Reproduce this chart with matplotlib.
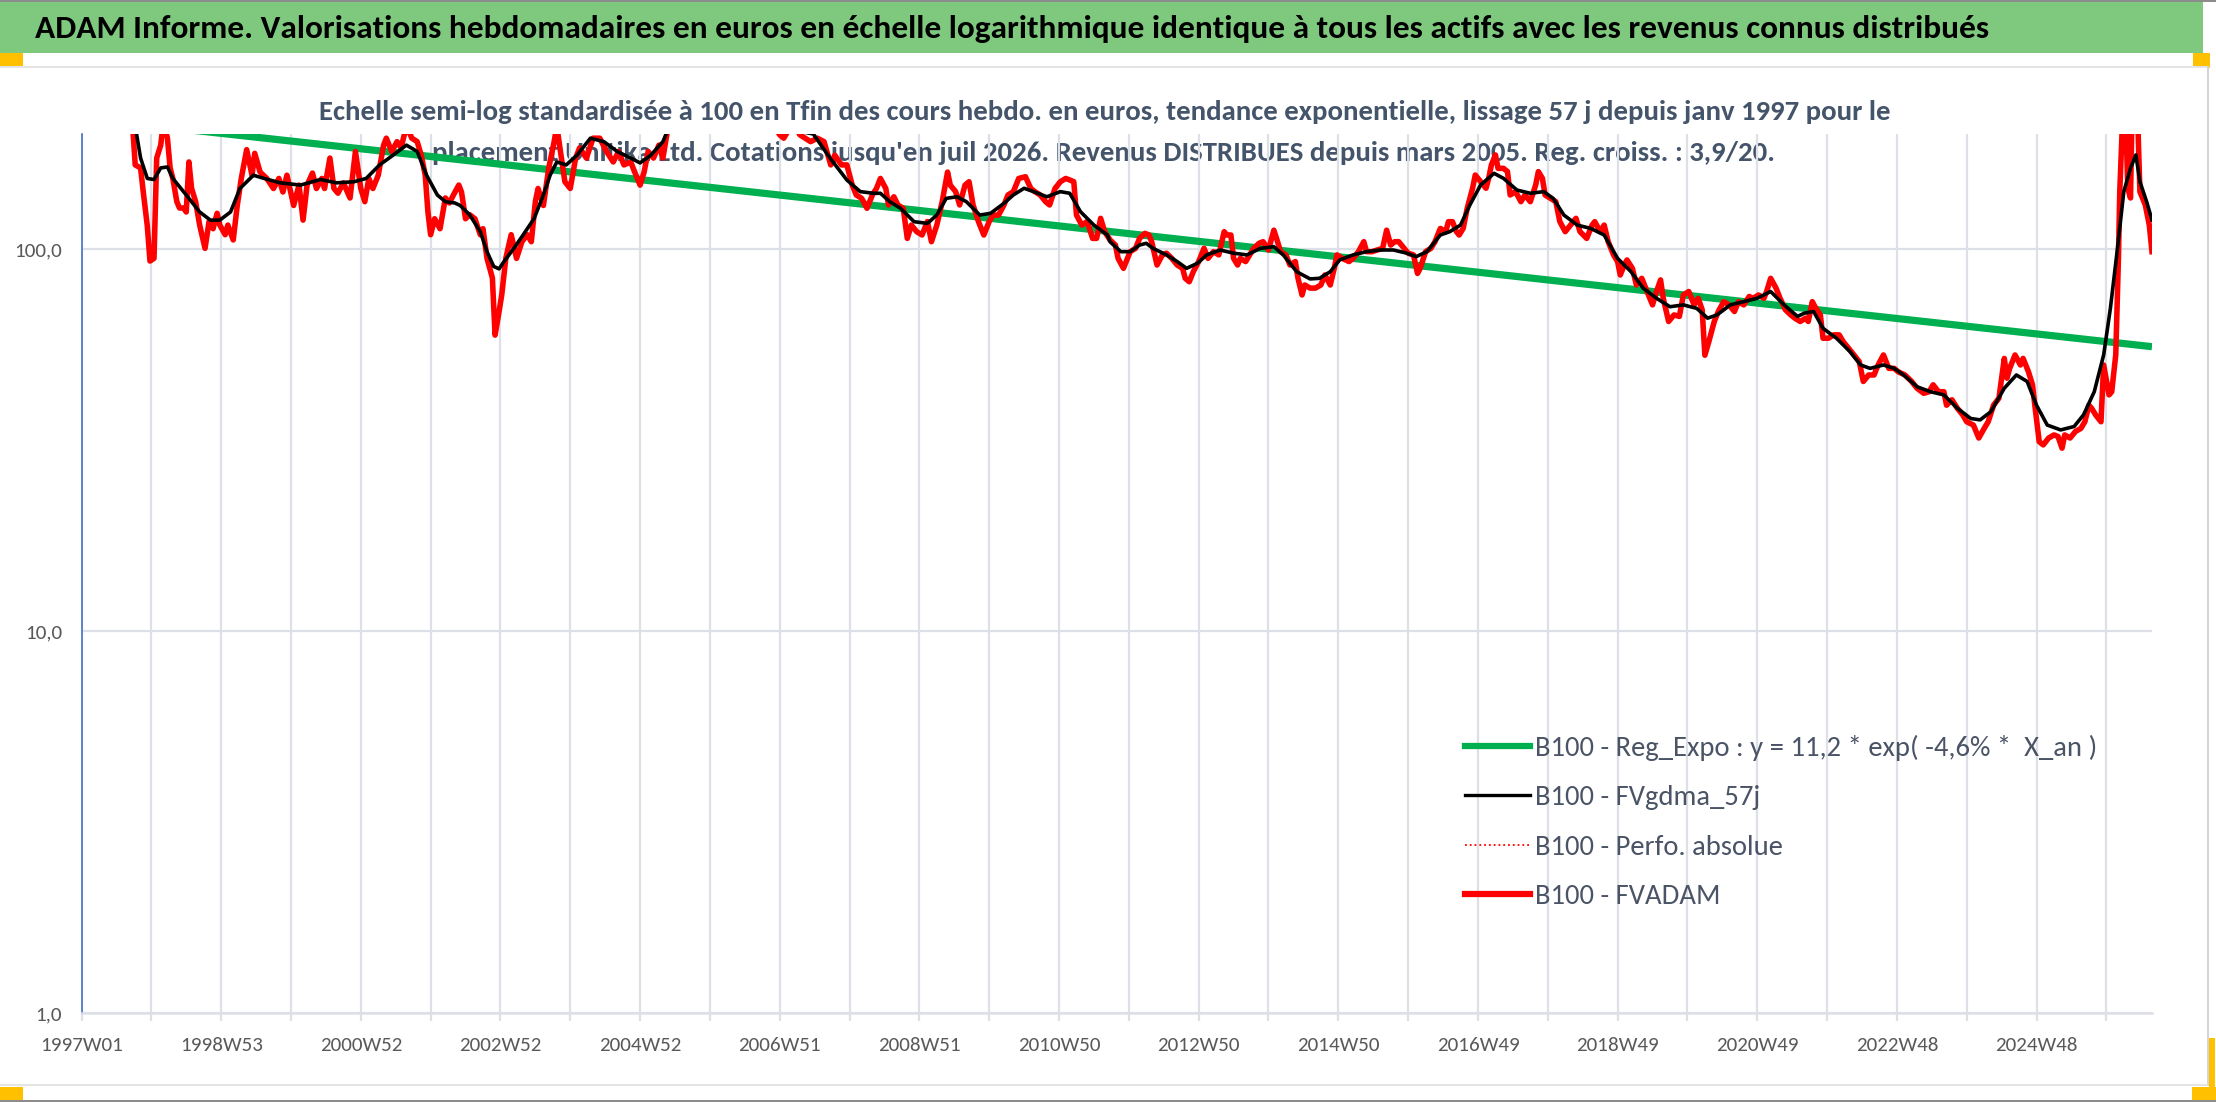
import matplotlib
matplotlib.use("Agg")
import matplotlib.pyplot as plt
from matplotlib import font_manager
from matplotlib.lines import Line2D
from matplotlib.patches import Rectangle
from matplotlib.ticker import FixedLocator, NullLocator, FixedFormatter

# ---------------- data ----------------
title = ("ADAM Informe. Valorisations hebdomadaires en euros en échelle logarithmique "
         "identique à tous les actifs avec les revenus connus distribués")
subtitle1 = ("Echelle semi-log standardisée à 100 en Tfin des cours hebdo. en euros, tendance "
             "exponentielle, lissage 57 j depuis janv 1997 pour le")
subtitle2 = ("placement Unitika Ltd. Cotations jusqu'en juil 2026. Revenus DISTRIBUES depuis "
             "mars 2005. Reg. croiss. : 3,9/20.")

x_tick_labels = ["1997W01", "1998W53", "2000W52", "2002W52", "2004W52", "2006W51",
                 "2008W51", "2010W50", "2012W50", "2014W50", "2016W49", "2018W49",
                 "2020W49", "2022W48", "2024W48"]
y_tick_values = [1, 10, 100]
y_tick_labels = ["1,0", "10,0", "100,0"]
n_weeks = 1542          # last weekly point index (juil 2026)
grid_step = 52          # weekly points between vertical gridlines
label_step = 104        # weekly points between labels

legend_labels = ["B100 - Reg_Expo : y = 11,2 * exp( -4,6% *  X_an )",
                 "B100 - FVgdma_57j",
                 "B100 - Perfo. absolue",
                 "B100 - FVADAM"]

# exponential trend (straight on the log axis) : start / end
trend_weeks = [38, 1542]
trend_values = [213, 55.5]

# FVADAM (red) - weekly index, value
red_weeks = [37, 40, 44, 46, 49, 51, 54, 55, 56, 59, 61, 64, 66, 68, 71, 73, 76, 78, 80, 82,
             85, 88, 92, 95, 98, 101, 103, 107, 109, 113, 116, 119, 123, 127, 129, 133, 138, 143,
             147, 150, 153, 158, 162, 165, 168, 172, 175, 179, 181, 185, 188, 191, 195, 200, 204,
             208, 211, 214, 217, 221, 225, 227, 231, 235, 238, 242, 246, 250, 253, 256, 258, 260,
             263, 267, 271, 274, 277, 281, 283, 286, 289, 293, 297, 299, 302, 306, 308, 311, 313,
             316, 320, 324, 328, 332, 335, 338, 340, 344, 348, 352, 354, 356, 360, 364, 368, 371,
             376, 381, 386, 391, 396, 400, 404, 409, 412, 416, 419, 422, 426, 430, 433, 436, 440,
             444, 455, 468, 480, 492, 505, 514, 520, 523, 530, 535, 543, 548, 553, 558, 561, 566,
             570, 574, 577, 581, 585, 589, 592, 595, 599, 601, 605, 608, 612, 615, 618, 622, 626,
             630, 633, 637, 641, 645, 647, 651, 654, 658, 661, 664, 668, 672, 676, 679, 683, 687,
             690, 694, 698, 703, 707, 710, 714, 718, 721, 725, 729, 733, 736, 739, 741, 745, 749,
             753, 756, 759, 762, 766, 770, 772, 776, 779, 781, 785, 788, 792, 795, 797, 801, 805,
             808, 812, 816, 820, 822, 825, 828, 832, 836, 839, 843, 847, 851, 853, 856, 858, 861,
             863, 867, 870, 873, 877, 880, 884, 888, 890, 893, 897, 900, 904, 906, 909, 911, 915,
             919, 923, 926, 930, 933, 935, 939, 944, 947, 951, 955, 957, 961, 965, 969, 972, 975,
             978, 981, 985, 988, 992, 995, 997, 1001, 1005, 1008, 1012, 1016, 1018, 1021, 1024,
             1026, 1029, 1032, 1036, 1038, 1042, 1046, 1048, 1050, 1053, 1055, 1059, 1062, 1064,
             1068, 1072, 1075, 1079, 1083, 1085, 1088, 1090, 1094, 1098, 1101, 1105, 1109, 1113,
             1116, 1121, 1125, 1127, 1131, 1134, 1137, 1141, 1144, 1146, 1149, 1151, 1155, 1158,
             1162, 1166, 1170, 1173, 1176, 1178, 1182, 1186, 1190, 1193, 1197, 1201, 1204, 1207,
             1209, 1212, 1216, 1219, 1223, 1227, 1231, 1234, 1238, 1242, 1245, 1249, 1253, 1255,
             1258, 1262, 1265, 1269, 1273, 1276, 1280, 1284, 1286, 1289, 1291, 1295, 1297, 1301,
             1305, 1309, 1312, 1316, 1320, 1324, 1327, 1331, 1335, 1338, 1342, 1346, 1350, 1353,
             1358, 1363, 1367, 1372, 1376, 1379, 1383, 1387, 1389, 1393, 1397, 1401, 1404, 1409,
             1413, 1417, 1420, 1424, 1428, 1432, 1434, 1436, 1440, 1444, 1446, 1450, 1453, 1455,
             1458, 1461, 1465, 1469, 1472, 1475, 1477, 1481, 1485, 1489, 1492, 1495, 1497, 1500,
             1504, 1506, 1510, 1512, 1515, 1517, 1518, 1520, 1522, 1524, 1526, 1527, 1529, 1531,
             1533, 1537, 1540, 1542]
red_values = [240, 166, 163, 141, 115, 93, 94.5, 128, 173, 187, 215, 195, 163, 153, 133, 128, 128,
              125, 169, 144, 133, 115.5, 100.4, 118, 113, 124, 115.5, 109, 115.5, 105.6, 130, 153,
              182, 156, 178, 159, 153, 144, 153, 141, 156, 130, 147, 119, 147, 158, 144, 153, 144,
              173, 144, 140, 149, 136, 180, 144, 133, 153, 144, 156, 187, 195, 180, 191, 184, 210,
              195, 191, 176, 156, 125, 109, 120, 113, 136, 132, 138.5, 147, 141, 120, 123, 120,
              109, 113, 94.5, 84, 59.5, 68.6, 76, 94.5, 109, 94.5, 104.5, 109, 104.5, 133, 144,
              130, 163, 191, 210, 187, 150, 144, 173, 184, 173, 195, 195, 180, 169, 180, 166, 169,
              159, 147, 159, 180, 173, 187, 173, 200, 225, 240, 260, 245, 265, 250, 240, 215, 199,
              195, 215, 199, 191, 195, 191, 166, 176, 166, 166, 147, 138.5, 135.7, 127.8, 138.5,
              144, 153, 144, 130.4, 137, 130.4, 127.8, 106.6, 115.5, 111, 108.8, 118, 104.5, 115.5,
              133, 159, 147, 141.3, 130.4, 147, 150, 130.4, 118, 108.8, 118, 122.7, 122.7, 130.4,
              138.5, 141.3, 153, 154.6, 144, 141.3, 138.5, 133, 130.4, 144, 150, 153, 151.6, 150,
              122.7, 115.5, 118, 106.6, 106.6, 120.3, 111, 105.6, 102.4, 94.5, 89, 94.5, 98.4,
              100.4, 106.6, 109.9, 108.8, 104.5, 90.8, 96.5, 97.5, 94.5, 90.8, 89, 83.8, 82.1,
              87.2, 92.7, 100.4, 94.5, 98.4, 96.5, 111, 108.8, 108.8, 94.5, 90.8, 94.5, 92.7,
              96.5, 100.4, 103.5, 104.5, 99.4, 112, 106.6, 98.4, 96.5, 90.8, 92.7, 83.8, 75.8,
              80.5, 79, 79, 80.5, 85.5, 80.5, 89, 96.5, 94.5, 92.7, 94.5, 98.4, 104.5, 98.4, 98.4,
              99.4, 100.4, 112, 102.4, 104.5, 104.5, 100.4, 97.5, 96.5, 86.3, 89, 98.4, 100.4,
              104.5, 113.2, 111, 117.9, 117.9, 111, 108.8, 113.2, 127.8, 144.2, 156.2, 150.1,
              144.2, 153.1, 165.9, 176.3, 162.6, 162.6, 159.4, 138.5, 141.3, 133, 138.5, 133,
              147.1, 159.4, 153.1, 138.5, 135.7, 133, 117.9, 111, 115.5, 120.3, 111, 106.6, 115.5,
              117.9, 111, 115.5, 104.5, 96.5, 92.7, 85.5, 90.8, 93.6, 89, 80.5, 83.8, 77.4, 71.4,
              77.4, 83, 74.3, 64.6, 67.2, 66.6, 75.8, 77.4, 71.4, 74.3, 69.3, 52.7, 57.3, 64.6,
              68.6, 72.8, 71.4, 68.6, 72.8, 71.4, 75.1, 74.3, 75.8, 74.3, 77.4, 83.8, 79, 74.3,
              69.3, 67.2, 65.9, 64.6, 65.9, 64.6, 72.8, 70.6, 67.2, 58.4, 58.4, 59.6, 59.6, 57.2,
              55, 52.8, 50.7, 45, 46.8, 46.8, 49.7, 52.8, 48.7, 48.7, 47.7, 46.8, 45, 43.2, 41.9,
              42.3, 44.1, 42.3, 42.3, 39, 40.3, 38.3, 36.8, 35.3, 34.6, 32, 33.9, 35.3, 39, 40.7,
              51.7, 45.9, 48.7, 52.8, 49.7, 51.7, 47.7, 44.1, 38.3, 31.3, 30.7, 32, 32.6, 32.3,
              30.1, 32.6, 32, 33.3, 33.9, 35.3, 39, 38.3, 36.8, 35.3, 49.7, 41.5, 42.3, 52.8,
              94.5, 141.3, 215, 250, 144, 136, 215, 260, 240, 141.3, 130.4, 115.5, 98.4]

# FVgdma_57j (black, smoothed)
black_weeks = [38, 41, 44, 49, 54, 59, 64, 68, 78, 88, 96, 103, 111, 118, 128, 136, 148, 163, 178,
               190, 203, 212, 222, 232, 242, 250, 257, 265, 271, 278, 282, 289, 297, 302, 307, 311,
               314, 322, 329, 337, 344, 349, 354, 361, 369, 379, 389, 399, 409, 416, 424, 433, 438,
               450, 470, 490, 510, 530, 545, 558, 570, 580, 590, 595, 602, 610, 620, 630, 637, 644,
               652, 659, 669, 677, 687, 694, 702, 709, 719, 729, 736, 744, 754, 764, 766, 774, 781,
               788, 793, 798, 808, 816, 823, 831, 838, 848, 858, 868, 878, 888, 895, 905, 915, 922,
               930, 937, 947, 957, 967, 977, 987, 994, 1002, 1012, 1019, 1027, 1034, 1042, 1052,
               1059, 1069, 1079, 1089, 1096, 1104, 1114, 1124, 1134, 1144, 1154, 1163, 1173, 1183,
               1193, 1203, 1211, 1218, 1228, 1238, 1248, 1258, 1268, 1278, 1283, 1290, 1297, 1307,
               1317, 1325, 1332, 1342, 1350, 1357, 1367, 1377, 1387, 1397, 1407, 1414, 1422, 1432,
               1441, 1449, 1456, 1464, 1474, 1484, 1491, 1499, 1506, 1511, 1516, 1521, 1526, 1530,
               1533, 1538, 1542]
black_values = [240, 200, 173, 153, 152, 163, 164, 153, 138.5, 125, 119, 119, 125, 144, 156, 153,
                149, 147, 152, 149, 150, 153, 166, 176, 187, 180, 156, 138.5, 133, 132, 130, 123,
                111, 98.4, 90, 88.7, 92, 100.4, 109, 120, 138.5, 156, 169, 166, 176, 195, 191, 180,
                173, 168, 176, 191, 210, 235, 245, 240, 225, 205, 200, 172, 151.6, 141.3, 139.9,
                139.9, 133, 127.8, 117.9, 116.7, 122.7, 135.7, 137, 133, 122.7, 124, 131.7, 138.5,
                144.2, 141.3, 137, 141.3, 139.9, 125.2, 115.5, 108.8, 104.5, 98.4, 98.4, 102.4,
                103.5, 100.4, 96.5, 92.7, 89, 91.7, 96.5, 99.4, 97.5, 96.5, 100.4, 101.4, 96.5,
                87.2, 83.5, 83.8, 87.2, 93.6, 96.5, 98.4, 99.4, 99.4, 97.5, 95.5, 98.4, 108.8, 111,
                115.5, 130.4, 147.1, 157.8, 153.1, 142.7, 139.9, 141.3, 135.7, 122.7, 115.5, 113.2,
                108.8, 94.5, 87.2, 79, 74.3, 70.6, 71.4, 69.9, 65.9, 67.2, 71.4, 72.8, 74.3, 77.4,
                71.4, 66.6, 67.9, 68.6, 62, 58.4, 53.9, 49.7, 48.7, 49.7, 48.7, 46.8, 43.6, 42.3,
                41.5, 38.3, 36, 35.7, 37.5, 43.2, 46.8, 45, 39, 34.6, 33.6, 34.3, 36.8, 42.3, 52.8,
                69.9, 98.4, 141.3, 162.6, 176.3, 150.1, 133, 119.1]

# ---------------- figure geometry (pixels of a 2216x1102 canvas) ----------------
W, H = 2216, 1102
DPI = 100


def fx(px):
    return px / W


def fy(py):
    return 1 - py / H


def pick_font(cands):
    for c in cands:
        try:
            font_manager.findfont(c, fallback_to_default=False)
            return c
        except Exception:
            pass
    return "DejaVu Sans"


FONT = pick_font(["Carlito", "Lato", "Open Sans", "DejaVu Sans"])
plt.rcParams["font.family"] = [FONT, "DejaVu Sans"]

fig = plt.figure(figsize=(W / DPI, H / DPI), dpi=DPI, facecolor="white")
renderer = fig.canvas.get_renderer()


def fit(t, target_px):
    w = t.get_window_extent(renderer).width
    t.set_fontsize(t.get_fontsize() * target_px / w)
    return t.get_fontsize()


def size_for(text, target_px, weight="normal"):
    t = fig.text(0, 0, text, fontsize=20, fontweight=weight)
    s = fit(t, target_px)
    t.remove()
    return s


# ---------------- decorations ----------------
def rect(x0, y0, x1, y1, color, z=0):
    fig.add_artist(Rectangle((fx(x0), fy(y1)), (x1 - x0) / W, (y1 - y0) / H,
                             transform=fig.transFigure, facecolor=color,
                             edgecolor="none", zorder=z))


rect(0, 0, 2216, 2, "#8c8c8c")
rect(0, 2, 2203, 53, "#7FC97F")
rect(0, 53, 23, 66, "#FFC000")
rect(2193, 53, 2210, 68, "#FFC000")
rect(0, 66, 2208, 68, "#E4E4E4")
rect(2207, 66, 2209, 1086, "#D4D4D4")
rect(0, 1084, 2208, 1086, "#E4E4E4")
rect(0, 1087, 23, 1100, "#FFC000")
rect(2209, 1038, 2215, 1087, "#FFC000")
rect(2192, 1087, 2216, 1100, "#FFC000")
rect(0, 1100, 2216, 1102, "#8c8c8c")

# ---------------- titles ----------------
t_title = fig.text(fx(35), fy(29), title, ha="left", va="center", fontsize=24,
                   fontweight="bold", color="black")
fit(t_title, 1953)

sub_color = "#44546A"
t_sub1 = fig.text(fx(1105), fy(112), subtitle1, ha="center", va="center", fontsize=20,
                  fontweight="bold", color=sub_color, zorder=1)
s_sub = fit(t_sub1, 1567)
t_sub2 = fig.text(fx(1103), fy(153), subtitle2, ha="center", va="center", fontsize=s_sub,
                  fontweight="bold", color=sub_color, zorder=1)

# ---------------- axes ----------------
ax = fig.add_axes([fx(81.5), fy(1013), (2152 - 81.5) / W, (1013 - 134) / H])
ax.set_facecolor("none")
ax.set_zorder(2)
ax.set_yscale("log")
ax.set_ylim(1, 200)
ax.set_xlim(0, n_weeks)

grid_col = "#DDE0E6"
major_pos = [i * label_step for i in range(len(x_tick_labels))]
minor_pos = [p for p in range(0, n_weeks + 1, grid_step) if p % label_step != 0]
ax.xaxis.set_major_locator(FixedLocator(major_pos))
ax.xaxis.set_major_formatter(FixedFormatter(x_tick_labels))
ax.xaxis.set_minor_locator(FixedLocator(minor_pos))
ax.yaxis.set_major_locator(FixedLocator(y_tick_values))
ax.yaxis.set_major_formatter(FixedFormatter(y_tick_labels))
ax.yaxis.set_minor_locator(NullLocator())

ax.grid(True, which="both", axis="x", color=grid_col, lw=1.6)
ax.grid(True, which="major", axis="y", color=grid_col, lw=1.6)
ax.set_axisbelow(True)

xs = size_for("1997W01", 83)
ys = size_for("100,0", 48)
ax.tick_params(axis="x", which="both", length=6, width=1.6, color=grid_col,
               labelsize=xs, labelcolor="#595959", pad=11.5)
ax.tick_params(axis="y", which="both", length=0, labelsize=ys, labelcolor="#595959", pad=14)

for s in ["top", "right"]:
    ax.spines[s].set_visible(False)
ax.spines["left"].set_color("#4472C4")
ax.spines["left"].set_linewidth(1.2)
ax.spines["bottom"].set_color(grid_col)
ax.spines["bottom"].set_linewidth(1.8)

# ---------------- series ----------------
ax.plot(trend_weeks, trend_values, color="#00B050", lw=5.2, solid_capstyle="butt", zorder=2)
ax.plot(red_weeks, red_values, color="#FF0000", lw=1.0, ls=":", zorder=2.9)
ax.plot(red_weeks, red_values, color="#FF0000", lw=4.0, zorder=3, solid_joinstyle="round")
ax.plot(black_weeks, black_values, color="black", lw=2.6, zorder=4, solid_joinstyle="round")

# ---------------- legend ----------------
handles = [Line2D([], [], color="#00B050", lw=4.5),
           Line2D([], [], color="black", lw=2.4),
           Line2D([], [], color="#FF0000", lw=1.3, ls=":"),
           Line2D([], [], color="#FF0000", lw=4.5)]
lfs = size_for(legend_labels[0], 562)
lpx = lfs * DPI / 72
leg_kw = dict(loc="upper left", bbox_transform=fig.transFigure, frameon=False,
              fontsize=lfs, handlelength=65 / lpx, handletextpad=5 / lpx,
              borderpad=0, borderaxespad=0)
spacing = 22 / lpx
anchor_y = 730
leg = None
for _ in range(3):
    if leg is not None:
        leg.remove()
    leg = ax.legend(handles, legend_labels, bbox_to_anchor=(fx(1465), fy(anchor_y)),
                    labelspacing=spacing, **leg_kw)
    for t in leg.get_texts():
        t.set_color("#4A5466")
    fig.canvas.draw()
    texts = leg.get_texts()
    c0 = texts[0].get_window_extent(renderer)
    c1 = texts[1].get_window_extent(renderer)
    y0 = H - (c0.y0 + c0.y1) / 2
    pitch = (c0.y0 + c0.y1) / 2 - (c1.y0 + c1.y1) / 2
    spacing += (50 - pitch) / lpx
    anchor_y += 748 - y0

fig.savefig("out.png", dpi=DPI, facecolor="white")
